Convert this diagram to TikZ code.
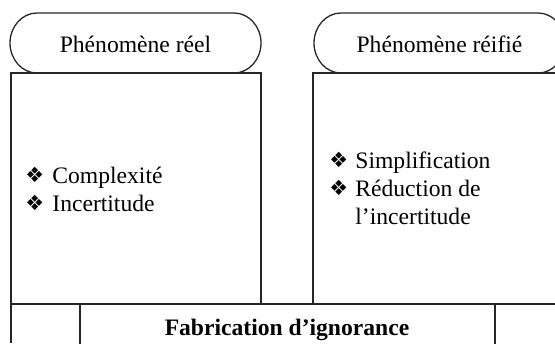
\documentclass[tikz,border=0pt]{standalone}
\usepackage{fontspec}
\setmainfont{Liberation Serif}
\newfontfamily\symfont{DejaVu Sans}
\newcommand{\dbul}{{\symfont\fontsize{10.5}{10.5}\selectfont ❖}}
\begin{document}
\begin{tikzpicture}[x=0.5pt,y=0.5pt,
  lines/.style={line width=0.65pt,draw=black!85},
  txt/.style={inner sep=0pt,font=\fontsize{11.8}{14}\selectfont},
  boldtxt/.style={inner sep=0pt,font=\fontsize{11.8}{14}\selectfont\bfseries}]
\useasboundingbox (0,0) rectangle (555,-343);
\begin{scope}
\clip (0,0) rectangle (555,-343);
% stadiums
\draw[lines] (37,-13) -- (234,-13) arc[start angle=90,end angle=-90,x radius=27,y radius=30]
  -- (37,-73) arc[start angle=270,end angle=90,x radius=27,y radius=30] -- cycle;
\draw[lines] (341,-13) -- (538,-13) arc[start angle=90,end angle=-90,x radius=27,y radius=30]
  -- (341,-73) arc[start angle=270,end angle=90,x radius=27,y radius=30] -- cycle;
% boxes
\draw[lines] (11,-343) -- (11,-73) -- (261,-73) -- (261,-304);
\draw[lines] (313,-304) -- (313,-73) -- (556,-73);
\draw[lines] (11,-304) -- (556,-304);
\draw[lines] (80,-304) -- (80,-344);
\draw[lines] (495,-304) -- (495,-344);
\end{scope}
% texts
\node[txt,anchor=base] (t1) at (135.5,-52) {Phénomène réel};
\node[txt,anchor=base] (t2) at (439.5,-52) {Phénomène réifié};
\node[txt,anchor=base west] (b1) at (25,-182) {\dbul};
\node[txt,anchor=base west] (l1) at (52,-183) {Complexité};
\node[txt,anchor=base west] (b2) at (25,-210) {\dbul};
\node[txt,anchor=base west] (l2) at (52,-211) {Incertitude};
\node[txt,anchor=base west] (b3) at (329,-167) {\dbul};
\node[txt,anchor=base west] (r1) at (355,-168) {Simplification};
\node[txt,anchor=base west] (b4) at (329,-195) {\dbul};
\node[txt,anchor=base west] (r2) at (355,-196) {Réduction de};
\node[txt,anchor=base west] (r3) at (355,-224) {l’incertitude};
\node[boldtxt,anchor=base] (f) at (287,-335) {Fabrication d’ignorance};
\end{tikzpicture}
\end{document}
